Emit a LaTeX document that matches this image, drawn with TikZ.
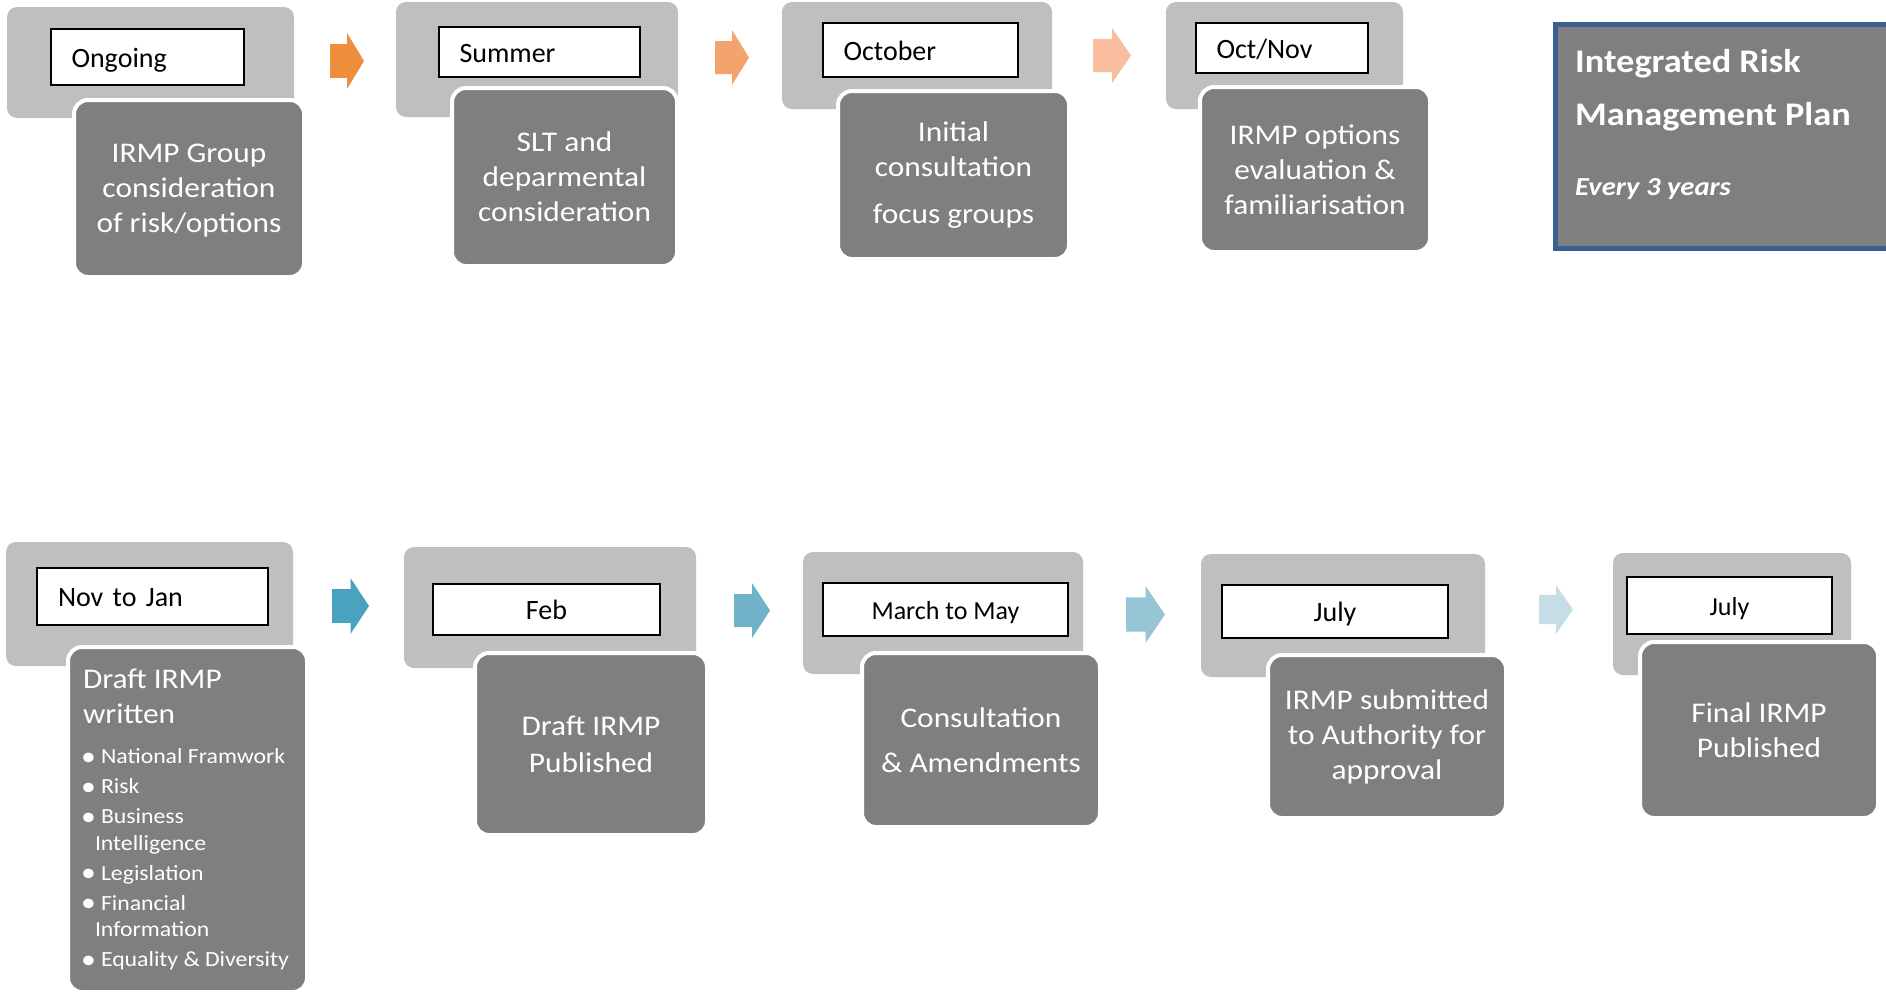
\documentclass[tikz,border=0pt]{standalone}
\usepackage{fontspec}
\setmainfont{Carlito}
\newfontfamily\widefont[FakeStretch=1.1]{Carlito}
\definecolor{lightbg}{HTML}{BFBFBF}
\definecolor{darkbg}{HTML}{7F7F7F}
\definecolor{irpborder}{HTML}{3C5F91}
\definecolor{arrA}{HTML}{EE8E3D}
\definecolor{arrB}{HTML}{F3A36D}
\definecolor{arrC}{HTML}{F9BE9E}
\definecolor{arrD}{HTML}{4AA3BE}
\definecolor{arrE}{HTML}{70B3C9}
\definecolor{arrF}{HTML}{96C5D6}
\definecolor{arrG}{HTML}{C4DDE6}
\newcommand\bul{\makebox[18pt][l]{\hspace{-2pt}\raisebox{-1.5pt}{\fontsize{27}{26.5}\selectfont\textbullet}}}
\newcommand\blockarrow[5]{%
  \fill[#5] (#1,{#3+0.2*(#4-#3)}) -- ({(#1+#2)/2},{#3+0.2*(#4-#3)}) -- ({(#1+#2)/2},#3) -- (#2,{(#3+#4)/2}) -- ({(#1+#2)/2},#4) -- ({(#1+#2)/2},{#4-0.2*(#4-#3)}) -- (#1,{#4-0.2*(#4-#3)}) -- cycle;}
\tikzset{
 lightbox/.style={fill=lightbg, rounded corners=10pt, inner sep=0pt},
 labelbox/.style={fill=white, draw=black, line width=1.4pt, inner sep=0pt, text height=20pt, text depth=0pt, font=\fontsize{28}{34}\selectfont},
 darkbox/.style={fill=darkbg, draw=white, line width=4pt, rounded corners=14pt, inner sep=0pt, text=white, align=center, font=\widefont\fontsize{28.5}{35}\selectfont},
 irptext/.style={text=white, inner sep=0pt, anchor=base west, font=\widefont\bfseries\fontsize{33}{40}\selectfont},
}
\begin{document}
\begin{tikzpicture}[x=1pt,y=-1pt]
\useasboundingbox (0,0) rectangle (1886,993);
\fill[white] (0,0) rectangle (1886,993);

% ---- top row ----
\node[lightbox, minimum width=287pt, minimum height=111pt] (l1) at (150.5,62.5) {};
\node[labelbox, minimum width=193pt, minimum height=56pt, text width=152pt, align=left] (t1) at (147.5,57) {Ongoing};
\node[darkbox, minimum width=230pt, minimum height=177pt, text depth=0pt] (d1) at (189,188.5) {IRMP Group\\consideration\\of risk/options};

\node[lightbox, minimum width=282pt, minimum height=115pt] (l2) at (537,59.5) {};
\node[labelbox, minimum width=201pt, minimum height=50pt, text width=160pt, align=left] (t2) at (539.5,52) {Summer};
\node[darkbox, minimum width=225pt, minimum height=178pt] (d2) at (564.5,177) {SLT and\\deparmental\\consideration};

\node[lightbox, minimum width=270pt, minimum height=107pt] (l3) at (917,55.5) {};
\node[labelbox, minimum width=195pt, minimum height=54pt, text width=154pt, align=left] (t3) at (920.5,50) {October};
\node[darkbox, minimum width=231pt, minimum height=168pt] (d3) at (953.5,175) {Initial\\consultation\\[12pt]focus groups};

\node[lightbox, minimum width=237pt, minimum height=107pt] (l4) at (1284.5,55.5) {};
\node[labelbox, minimum width=172pt, minimum height=50pt, text width=131pt, align=left] (t4) at (1282,48) {Oct/Nov};
\node[darkbox, minimum width=230pt, minimum height=165pt] (d4) at (1315,169.5) {IRMP options\\evaluation \&\\familiarisation};

\node[fill=darkbg, draw=irpborder, line width=5pt, inner sep=0pt, minimum width=340pt, minimum height=224pt] (irp) at (1725,136.5) {};
\node[irptext] (irp1) at (1575,72) {Integrated Risk};
\node[irptext] (irp2) at (1575,125) {Management Plan};
\node[irptext, font=\widefont\bfseries\itshape\fontsize{26}{30}\selectfont] (irp3) at (1575,195) {Every 3 years};

\blockarrow{330}{364}{33}{89}{arrA}
\blockarrow{715}{749}{30}{85}{arrB}
\blockarrow{1093}{1131}{28}{83}{arrC}

% ---- bottom row ----
\node[lightbox, minimum width=287pt, minimum height=124pt] (l5) at (149.5,604) {};
\node[labelbox, minimum width=231pt, minimum height=57pt, text width=189pt, align=left] (t5) at (152.5,596.5) {Nov to Jan};
\node[darkbox, minimum width=239pt, minimum height=345pt] (d5) at (187.5,819.5) {%
\begin{minipage}{209pt}\raggedright
\fontsize{28.5}{35}\selectfont Draft IRMP\\written\par
\fontsize{21.6}{26.5}\selectfont\vspace{13.5pt}
\bul National Framwork\\[3.5pt]
\bul Risk\\[3.5pt]
\bul Business\\
\hspace*{12pt}Intelligence\\[3.5pt]
\bul Legislation\\[3.5pt]
\bul Financial\\
\hspace*{12pt}Information\\[3.5pt]
\bul Equality \& Diversity
\end{minipage}};

\node[lightbox, minimum width=292pt, minimum height=121pt] (l6) at (550,607.5) {};
\node[labelbox, minimum width=227pt, minimum height=51pt] (t6) at (546.5,609.5) {Feb};
\node[darkbox, minimum width=232pt, minimum height=182pt] (d6) at (591,744) {Draft IRMP\\[2pt]Published};

\node[lightbox, minimum width=280pt, minimum height=122pt] (l7) at (943,613) {};
\node[labelbox, minimum width=245pt, minimum height=53pt, font=\fontsize{26}{32}\selectfont] (t7) at (945.5,609.5) {March to May};
\node[darkbox, minimum width=238pt, minimum height=174pt] (d7) at (981,740) {Consultation\\[10pt]\& Amendments};

\node[lightbox, minimum width=284pt, minimum height=123pt] (l8) at (1343,615.5) {};
\node[labelbox, minimum width=226pt, minimum height=53pt] (t8) at (1335,611.5) {July};
\node[darkbox, minimum width=238pt, minimum height=163pt] (d8) at (1387,736.5) {IRMP submitted\\to Authority for\\approval};

\node[lightbox, minimum width=238pt, minimum height=122pt] (l9) at (1732,614) {};
\node[labelbox, minimum width=205pt, minimum height=57pt, font=\fontsize{26}{32}\selectfont] (t9) at (1729.5,605.5) {July};
\node[darkbox, minimum width=238pt, minimum height=176pt] (d9) at (1759,730) {Final IRMP\\Published};

\blockarrow{332}{369}{578}{634}{arrD}
\blockarrow{734}{770}{583}{638}{arrE}
\blockarrow{1126}{1165}{586}{643}{arrF}
\blockarrow{1539}{1573}{585}{634}{arrG}
\end{tikzpicture}
\end{document}
